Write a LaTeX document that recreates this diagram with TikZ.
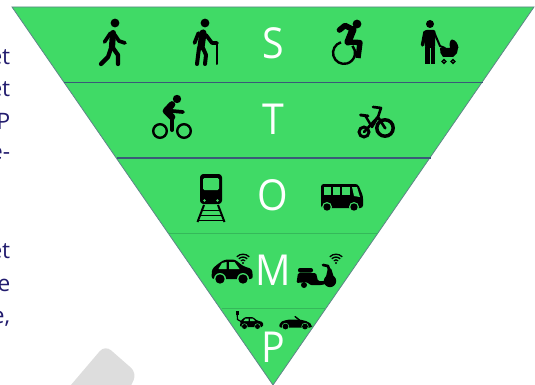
\documentclass[tikz,border=0pt]{standalone}
\usepackage{fontspec}
\setmainfont{Open Sans}
\definecolor{stompgreen}{HTML}{40DA66}
\definecolor{edgeblue}{HTML}{5F8588}
\definecolor{bandblue}{HTML}{3A5A78}
\definecolor{bandgreen}{HTML}{35B85A}
\definecolor{navytext}{HTML}{221C6E}
\definecolor{ghost}{HTML}{DDDDDD}
\tikzset{
  stomp/.style={text=white,font=\fontsize{32}{32}\selectfont,inner sep=0pt,xscale=0.92,transform shape},
  cut/.style={text=navytext,font=\fontsize{17}{17}\selectfont,inner sep=0pt,anchor=east},
  limb/.style={draw=black,line width=#1,line cap=round,line join=round},
  limb/.default=2.6pt,
  hole/.style={fill=stompgreen,draw=none},
  airwave/.style={draw=black,line width=1pt,line cap=butt},
}
\begin{document}
\begin{tikzpicture}[x=0.75pt,y=-0.75pt]
\useasboundingbox (0,0) rectangle (535,385);
% grey ghost shape
\fill[ghost,rounded corners=6pt] (65,392) -- (105,345) -- (137,373) -- (128,392) -- cycle;
% pyramid
\draw[draw=edgeblue,line width=0.6pt,fill=stompgreen,line join=miter] (12,7) -- (534,7) -- (273,385) -- cycle;
\draw[bandblue,line width=0.8pt] (64,82.5) -- (483,82.5);
\draw[bandblue,line width=0.8pt] (117,158) -- (431,158);
\draw[bandgreen,line width=0.7pt] (169,233.5) -- (378,233.5);
\draw[bandgreen,line width=0.7pt] (222,308.5) -- (325,308.5);
% letters
\node[stomp] (s) at (273,43) {S};
\node[stomp] (t) at (273,119) {T};
\node[stomp] (o) at (273,195) {O};
\node[stomp] (m) at (273,270) {M};
\node[stomp] (p) at (273,347) {P};
% cropped body text
\node[cut] (l1) at (10.5,57) {et};
\node[cut] (l2) at (10.5,89) {et};
\node[cut] (l3) at (10.5,121) {P};
\node[cut] (l4) at (10.5,153) {e-};
\node[cut] (l5) at (10.5,251) {et};
\node[cut] (l6) at (10.5,285) {e};
\node[cut] (l7) at (10.5,319) {e,};
% walker
\fill (115,23) circle (4.4);
\draw[limb=4.6pt] (113,33) -- (112,47);
\draw[limb=2.8pt] (110.5,33) -- (104.5,42);
\draw[limb=2.8pt] (115,35) -- (119,41) -- (125,43);
\draw[limb=3.2pt] (111,48) -- (108,57) -- (101,64);
\draw[limb=3.2pt] (113,48) -- (118,55) -- (118,64);
% elder
\fill (205,23) circle (4.4);
\draw[limb=5.4pt] (203,33) -- (201,47);
\draw[limb=2.8pt] (198.5,33) -- (194.5,43);
\draw[limb=2.8pt] (206,35) -- (212,43) -- (217,43);
\draw[limb=1.5pt] (217,43) -- (217,64);
\draw[limb=3pt] (199,48) -- (197,64);
\draw[limb=3pt] (203,48) -- (206,55) -- (205,64);
% wheelchair
\fill (357,24) circle (4.4);
\draw[limb=4.2pt] (339.5,30) -- (345,25.5) -- (353,29.5);
\draw[limb=5.4pt] (353,29.5) -- (348,42);
\draw[limb=4pt,line cap=butt] (348,42) -- (360,42.5) -- (358,58);
\draw[line width=1.8pt] (341,42.3) arc[start angle=-106,end angle=-400,radius=11];
% parent with stroller
\fill (430,24) circle (4);
\fill[rounded corners=1.5pt] (424.5,30) -- (435.5,30) -- (435,48) -- (425,48) -- cycle;
\draw[limb=2.6pt] (425,32) -- (422.5,45);
\draw[limb=1.5pt] (434,32) -- (440,46) -- (445,48);
\draw[limb=3.4pt,line cap=butt] (427.5,47) -- (427.5,64);
\draw[limb=3.4pt,line cap=butt] (432.8,47) -- (432.8,64);
\fill (440,48) -- (458,48) -- (457,53) -- (453,57) -- (443,57) -- (440.5,53) -- cycle;
\fill (450,48) .. controls (449,43) and (450,40) .. (452,39.5) .. controls (456,40) and (458,44) .. (458.5,48) -- cycle;
\draw[line width=1pt] (444,61.5) circle (1.9);
\draw[line width=1pt] (453,61.5) circle (1.9);
% bike
\fill (177,99) circle (4.2);
\draw[limb=5pt] (172,104.5) -- (166,111) -- (172,117);
\draw[limb=3pt] (172,117) -- (172,130);
\draw[limb=2.8pt] (172,111) -- (183,112);
\draw[line width=1.8pt] (160,131) circle (6.8);
\draw[line width=1.8pt] (184,131) circle (6.8);
% tricycle
\draw[line width=2.6pt] (385,128) circle (8.2);
\fill (385,128) circle (1.5);
\draw[line width=2.2pt] (364,132) circle (5);
\draw[limb=2pt] (373,107) -- (381,108) -- (378,117) -- (385,128);
\draw[limb=2pt] (378,117) -- (364,132);
\draw[limb=2.2pt] (360.5,115) -- (368,116);
\draw[limb=1.8pt] (365.5,116) -- (372,127) -- (378,117);
% train
\fill[rounded corners=2.5pt] (200,174) rectangle (222,204);
\fill[hole,rounded corners=1pt] (203,178) rectangle (219,190);
\fill[hole] (204.5,200.5) circle (1.3);
\fill[hole] (217.5,200.5) circle (1.3);
\draw[line width=1.5pt] (204,205) -- (197.5,222);
\draw[line width=1.5pt] (218,205) -- (224.5,222);
\draw[line width=1.4pt] (202,210.5) -- (220,210.5);
\draw[line width=1.4pt] (200.5,215.5) -- (221.5,215.5);
\draw[line width=1.4pt] (198.5,220.5) -- (223.5,220.5);
% bus
\fill[rounded corners=2pt] (321,184) -- (358,184) -- (363,196) -- (363,208) -- (321,208) -- cycle;
\fill[hole] (323.5,187) rectangle (331,195);
\fill[hole] (332.5,187) rectangle (340,195);
\fill[hole] (342,187) rectangle (349.5,195);
\fill[hole] (352,187) -- (357,187) -- (360,197) -- (354,196) -- cycle;
\fill[hole] (327,207) circle (5);
\fill[hole] (354,207) circle (5);
\fill (327,207) circle (3.7);
\fill (354,207) circle (3.7);
% connected car
\fill[rounded corners=2pt] (211.5,279) -- (212,269) -- (219,263) -- (225,259.5) -- (235,259.5) -- (243,266) -- (252,269) -- (253,279) -- cycle;
\fill[hole] (222,263) -- (226.5,262) -- (226.5,269) -- (218.5,269) -- cycle;
\fill[hole] (229,262) -- (234.5,262) -- (239.5,269) -- (229,269) -- cycle;
\fill[hole] (220,279) circle (6);
\fill[hole] (243,279) circle (6);
\fill (220,279) circle (4.7);
\fill (243,279) circle (4.7);
\fill (243,263) circle (1.2);
\draw[airwave] (240.8,260.8) arc[start angle=-135,end angle=-45,radius=3.1];
\draw[airwave] (238.8,258.8) arc[start angle=-135,end angle=-45,radius=5.9];
\draw[airwave] (236.8,256.8) arc[start angle=-135,end angle=-45,radius=8.8];
% connected scooter
\fill[rounded corners=1.5pt] (298,268) rectangle (313,272.5);
\fill[rounded corners=1pt] (296.5,283) -- (298,273) -- (316,273) -- (318,281) -- (325,281) -- (328,268) -- (331,268) -- (335,281) -- (322,285) -- (310,285) -- (307,282) -- cycle;
\draw[limb=2pt] (323,265) -- (328,266) -- (331,276);
\fill (330,281) circle (6.2);
\fill (304,285) circle (3);
\fill (336,263) circle (1.2);
\draw[airwave] (333.8,260.8) arc[start angle=-135,end angle=-45,radius=3.1];
\draw[airwave] (331.8,258.8) arc[start angle=-135,end angle=-45,radius=5.9];
\draw[airwave] (329.8,256.8) arc[start angle=-135,end angle=-45,radius=8.8];
% electric car
\fill (236,311) rectangle (238.5,314.5);
\draw[line width=0.9pt] (237.2,314) -- (237.5,319.5) -- (241,321.5);
\fill[rounded corners=1pt] (240,327) -- (240.5,321) -- (245,317) -- (253,317) -- (257,320.5) -- (263,322) -- (263,327) -- cycle;
\fill[hole] (245.5,318.5) -- (248.5,318.5) -- (248.5,321) -- (243.5,321) -- cycle;
\fill[hole] (250,318.5) -- (252.5,318.5) -- (255,321) -- (250,321) -- cycle;
\fill[hole] (244.5,326.5) circle (3.1);
\fill[hole] (257.5,326.5) circle (3.1);
\fill (244.5,326.5) circle (2.5);
\fill (257.5,326.5) circle (2.5);
% convertible
\fill[rounded corners=1.5pt] (279,327.5) -- (280,322) -- (288,319.5) -- (300,319.5) -- (308,321.5) -- (312,325) -- (312,327.5) -- cycle;
\draw[limb=1pt] (295,316.5) -- (300,320.5);
\fill[hole] (285.5,326.5) circle (3.6);
\fill[hole] (305,326.5) circle (3.6);
\fill (285.5,326.5) circle (2.9);
\fill (305,326.5) circle (2.9);
\end{tikzpicture}
\end{document}
